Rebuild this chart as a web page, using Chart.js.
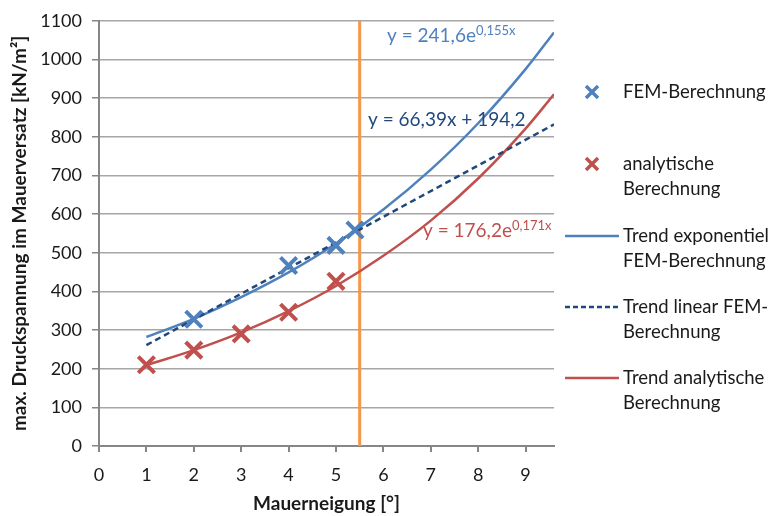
<!DOCTYPE html>
<html>
<head>
<meta charset="utf-8">
<script src="https://cdn.jsdelivr.net/npm/chart.js@4/dist/chart.umd.min.js"></script>
<style>
  html, body { margin: 0; padding: 0; background: #fff; }
  #wrap { width: 778px; height: 516px; }
</style>
</head>
<body>
<div id="wrap"><canvas id="chart" width="778" height="516"></canvas></div>
<script>
// data
const femX = [2, 4, 5, 5.4];
const femY = [328, 467, 519, 559];
const anaX = [1, 2, 3, 4, 5];
const anaY = [210, 248, 290, 346, 426];
const trendX = [1, 2, 3, 4, 5, 6, 7, 8, 9, 9.6];
const trendExpFem = [282, 329, 385, 449, 524, 612, 715, 835, 975, 1070];
const trendAna = [209, 248, 294, 349, 414, 492, 583, 692, 821, 910];
const trendLinX = [1, 9.6];
const trendLinFem = [261, 832];
const limitX = [5.5, 5.5];
const limitY = [0, 1100];
const yTicks = [0, 100, 200, 300, 400, 500, 600, 700, 800, 900, 1000, 1100];

const blue = '#4F81BD', red = '#C0504D', navy = '#1F497D', orange = '#F79646';
const FONT = 'Lato, "Open Sans", sans-serif';

function pts(xs, ys) {
    return xs.map((x, i) => ({ x: x, y: ys[i] }));
}

const legendItems = [
    { type: 'x', color: blue, lines: ['FEM-Berechnung'], y: 92 },
    { type: 'x', color: red, lines: ['analytische', 'Berechnung'], y: 164 },
    { type: 'line', color: blue, lines: ['Trend exponentiel', 'FEM-Berechnung'], y: 236 },
    { type: 'dash', color: navy, lines: ['Trend linear FEM-', 'Berechnung'], y: 307 },
    { type: 'line', color: red, lines: ['Trend analytische', 'Berechnung'], y: 378 }
];

const equations = [
    { text: 'y = 241,6e', sup: '0,155x', color: blue, x: 387, y: 36 },
    { text: 'y = 66,39x + 194,2', sup: '', color: navy, x: 368, y: 120 },
    { text: 'y = 176,2e', sup: '0,171x', color: red, x: 423, y: 231 }
];

const extras = {
    id: 'extras',
    afterDraw(chart) {
        const ctx = chart.ctx;
        ctx.save();
        // equations
        equations.forEach(e => {
            ctx.font = '19px ' + FONT;
            ctx.fillStyle = e.color;
            ctx.textBaseline = 'middle';
            ctx.textAlign = 'left';
            ctx.fillText(e.text, e.x, e.y);
            if (e.sup) {
                const w = ctx.measureText(e.text).width;
                ctx.font = '13px ' + FONT;
                ctx.fillText(e.sup, e.x + w, e.y - 5);
            }
        });
        // legend
        legendItems.forEach(it => {
            ctx.strokeStyle = it.color;
            if (it.type === 'x') {
                ctx.lineWidth = 3.5;
                ctx.setLineDash([]);
                ctx.beginPath();
                ctx.moveTo(586, it.y - 6); ctx.lineTo(598, it.y + 6);
                ctx.moveTo(598, it.y - 6); ctx.lineTo(586, it.y + 6);
                ctx.stroke();
            } else {
                ctx.lineWidth = 2.5;
                ctx.setLineDash(it.type === 'dash' ? [5, 3] : []);
                ctx.beginPath();
                ctx.moveTo(565, it.y); ctx.lineTo(619, it.y);
                ctx.stroke();
            }
            ctx.setLineDash([]);
            ctx.font = '18.5px ' + FONT;
            ctx.fillStyle = '#1a1a1a';
            ctx.textBaseline = 'middle';
            it.lines.forEach((l, i) => ctx.fillText(l, 623, it.y + i * 25));
        });
        ctx.restore();
    }
};

new Chart(document.getElementById('chart'), {
    type: 'scatter',
    data: {
        datasets: [
            { label: 'FEM-Berechnung', data: pts(femX, femY), pointStyle: 'crossRot',
              pointRadius: 11.5, pointBorderWidth: 4, borderColor: blue, backgroundColor: blue, order: 1 },
            { label: 'analytische Berechnung', data: pts(anaX, anaY), pointStyle: 'crossRot',
              pointRadius: 11.5, pointBorderWidth: 4, borderColor: red, backgroundColor: red, order: 1 },
            { label: 'Trend exponentiel FEM-Berechnung', data: pts(trendX, trendExpFem), showLine: true,
              pointRadius: 0, borderColor: blue, borderWidth: 2.5, cubicInterpolationMode: 'monotone', order: 3 },
            { label: 'Trend linear FEM-Berechnung', data: pts(trendLinX, trendLinFem), showLine: true,
              pointRadius: 0, borderColor: navy, borderWidth: 2.5, borderDash: [6, 4], order: 2 },
            { label: 'Trend analytische Berechnung', data: pts(trendX, trendAna), showLine: true,
              pointRadius: 0, borderColor: red, borderWidth: 2.5, cubicInterpolationMode: 'monotone', order: 3 },
            { label: 'limit', data: pts(limitX, limitY), showLine: true,
              pointRadius: 0, borderColor: orange, borderWidth: 3, order: 4 }
        ]
    },
    options: {
        responsive: false,
        animation: false,
        layout: { padding: { top: 18, right: 224, left: 0, bottom: 0 } },
        plugins: { legend: { display: false }, tooltip: { enabled: false } },
        scales: {
            x: {
                type: 'linear', min: 0, max: 9.6,
                afterFit(s) { s.height = 70; },
                ticks: { stepSize: 1, includeBounds: false, padding: 12, color: '#1a1a1a',
                         font: { family: FONT, size: 18 } },
                grid: { drawOnChartArea: false, drawTicks: true, tickLength: 6, color: '#868686', lineWidth: 2 },
                border: { color: '#868686', width: 2 },
                title: { display: true, text: 'Mauerneigung [°]', color: '#1a1a1a',
                         font: { family: FONT, size: 19, weight: 'bold' }, padding: { top: 0, bottom: 1 } }
            },
            y: {
                min: 0, max: 1100,
                afterFit(s) { s.width = 99; },
                afterBuildTicks(s) { s.ticks = yTicks.map(v => ({ value: v })); },
                ticks: { padding: 10, color: '#1a1a1a', font: { family: FONT, size: 18 },
                         callback: v => String(v) },
                grid: { color: '#A6A6A6', lineWidth: 1.5, tickLength: 7, tickColor: '#868686' },
                border: { color: '#868686', width: 2 },
                title: { display: true, text: 'max. Druckspannung im Mauerversatz [kN/m²]', color: '#1a1a1a',
                         font: { family: FONT, size: 19, weight: 'bold' }, padding: { top: 8, bottom: 0 } }
            }
        }
    },
    plugins: [extras]
});
</script>
</body>
</html>
